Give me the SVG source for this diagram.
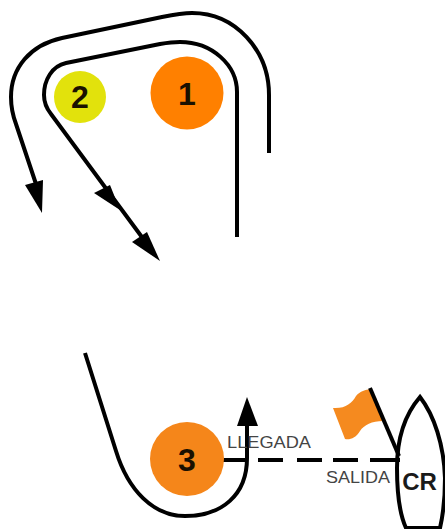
<svg xmlns="http://www.w3.org/2000/svg" width="445" height="529" viewBox="0 0 445 529">
<style>
.l{fill:none;stroke:#000;stroke-width:4}
.n{font-family:"Liberation Sans",Arial,sans-serif;font-weight:bold;font-size:32px;text-anchor:middle;fill:#1a1000}
.t{font-family:"Liberation Sans",Arial,sans-serif;font-size:16.5px;fill:#444}
</style>
<rect width="445" height="529" fill="#fff"/>
<g id="connectors">
<path class="l" d="M269 153V95C269 50 235 13 192 13C182 13 172 15 162 17L62 38C30 45 11 68 11 97C11 108 13 116 16 124L38 190"/>
<path class="l" d="M237 237V92C237 65 212 42 180 42C172 42 166 43 160 44L66 63C52 66 44 80 44 95C44 103 47 109 51 114L150 248"/>
<path class="l" d="M85 353L116 451C128 490 153 516 185 516C222 516 247 495 247 458V420"/>
<path class="l" d="M221 460H247"/>
<path class="l" stroke-dasharray="25 14 25 11 25 12 30" d="M258 460H400"/>
<polygon points="42,213 25,185 43,180"/>
<polygon points="120,210 94,193 110,185"/>
<polygon points="160,261 132,242 147,232"/>
<polygon points="247,397 237,426 258,426"/>
</g>
<g id="node-1"><circle cx="187" cy="93" r="36.5" fill="#ff8000"/><text class="n" x="187" y="105">1</text></g>
<g id="node-2"><circle cx="80" cy="97" r="26" fill="#e2e20c"/><text class="n" x="80" y="108">2</text></g>
<g id="node-3"><circle cx="187" cy="459" r="37" fill="#f5861a"/><text class="n" x="187" y="471">3</text></g>
<g id="flag">
<path d="M333 408C345 409 352 403 356 396C360 391 366 390 370 389L383 421C372 421 364 425 360 431C356 438 350 440 345 439Z" fill="#f58a1f"/>
<path class="l" d="M370 388L399 456"/>
</g>
<g id="boat">
<path class="l" d="M420 397C407 412 397 436 397 468C397 495 400 515 406 528H440C443 515 445 495 445 478C444 445 434 415 420 397Z"/>
<text x="419.500" y="489.500" font-family="'Liberation Sans',Arial,sans-serif" font-weight="bold" font-size="24" text-anchor="middle" fill="#1a1a1a">CR</text>
</g>
<g id="labels">
<text class="t" x="227" y="448" textLength="84" lengthAdjust="spacingAndGlyphs">LLEGADA</text>
<text class="t" x="326" y="483" textLength="64" lengthAdjust="spacingAndGlyphs">SALIDA</text>
</g>
</svg>
